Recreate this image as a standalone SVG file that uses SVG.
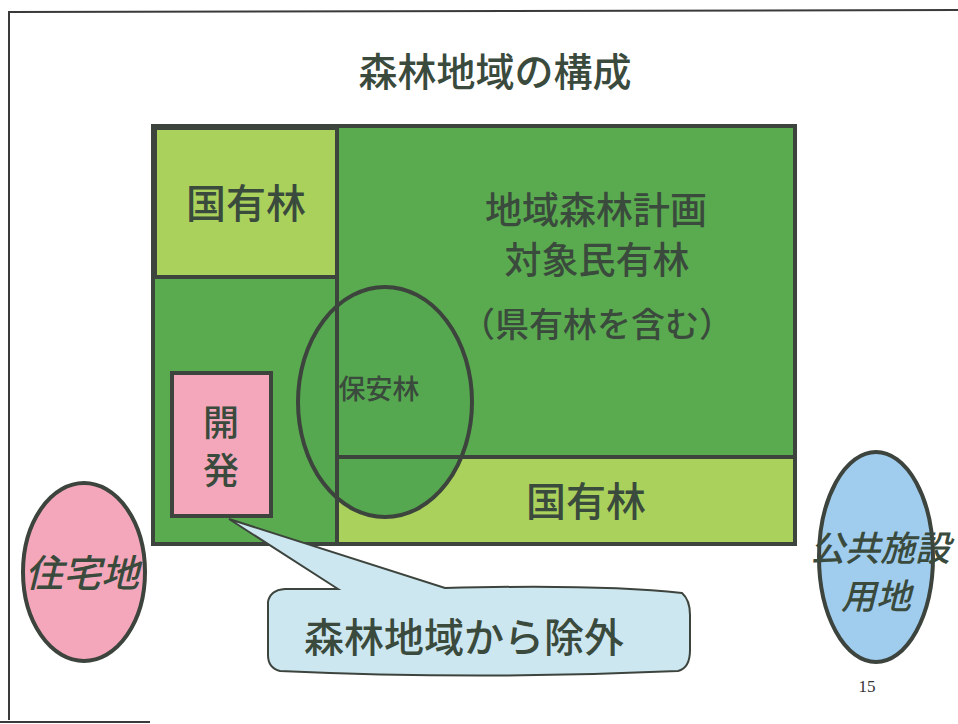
<svg xmlns="http://www.w3.org/2000/svg" width="958" height="724" viewBox="0 0 958 724">
<style>
.t{font-family:"Noto Sans CJK JP","Noto Sans CJK SC",sans-serif;fill:#3a4a3c;text-anchor:middle;font-weight:500}
.it{font-style:italic;font-weight:500}
.sh{stroke:#3d443d;stroke-width:4}
</style>
<rect width="958" height="724" fill="#ffffff"/>
<g id="page-border" fill="none" stroke="#3a3a3a" stroke-width="2">
<polyline points="958,10 9,12 9,720"/>
<line x1="0" y1="722" x2="150" y2="722"/>
</g>
<g id="title"><text class="t" x="495" y="86" font-size="39" font-weight="600">森林地域の構成</text></g>
<g id="forest-area">
<rect x="153" y="126" width="642" height="418" fill="#5aab50" class="sh"/>
</g>
<g id="plan-private">
<rect x="337" y="128" width="456" height="329" fill="#5aab50"/>
<text class="t" x="596" y="224" font-size="37">地域森林計画</text>
<text class="t" x="597" y="274" font-size="37">対象民有林</text>
<text class="t" x="597" y="337" font-size="34">（県有林を含む）</text>
</g>
<g id="national-top">
<rect x="155" y="128" width="182" height="149" fill="#a9d15c" class="sh"/>
<text class="t" x="246" y="218" font-size="40">国有林</text>
</g>
<g id="national-bottom">
<rect x="337" y="457" width="458" height="87" fill="#a9d15c" class="sh"/>
<text class="t" x="586" y="516" font-size="40">国有林</text>
</g>
<g id="protection-forest">
<ellipse cx="385" cy="402" rx="87" ry="115" fill="#55a84f" stroke="none"/>
<line x1="337" y1="457" x2="460" y2="457" class="sh"/>
<line x1="337" y1="128" x2="337" y2="544" class="sh"/>
<ellipse cx="385" cy="402" rx="87" ry="115" fill="none" class="sh"/>
<text class="t" x="379" y="399" font-size="27">保安林</text>
</g>
<g id="development">
<rect x="172" y="373" width="99" height="143" fill="#f4a7bb" class="sh"/>
<text class="t" x="221" y="436" font-size="36">開</text>
<text class="t" x="221" y="484" font-size="36">発</text>
</g>
<g id="residential">
<ellipse cx="84" cy="572" rx="61" ry="89" fill="#f4a7bb" class="sh"/>
<text class="t it" x="82" y="587" font-size="38">住宅地</text>
</g>
<g id="public-facility">
<ellipse cx="876" cy="557" rx="57" ry="105" fill="#a0cdee" class="sh"/>
<text class="t it" x="880" y="561" font-size="35">公共施設</text>
<text class="t it" x="876" y="609" font-size="35">用地</text>
</g>
<g id="connectors">
<path d="M338,589 L229,519 L445,588 Q600,584 682,593 Q690,600 690,615 L690,650 Q690,668 678,671 Q480,680 280,671 Q268,668 268,655 L268,602 Q270,590 285,589 Z" fill="#cde7f0" stroke="#3d443d" stroke-width="2"/>
</g>
<g id="callout"><text class="t" x="464" y="652" font-size="40">森林地域から除外</text></g>
<g id="page-number"><text x="867" y="692" font-size="17" font-family="Liberation Serif,serif" fill="#333" text-anchor="middle">15</text></g>
</svg>
